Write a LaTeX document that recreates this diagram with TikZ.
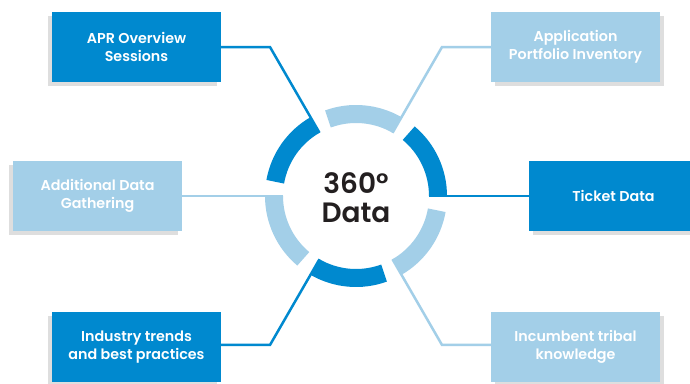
\documentclass[tikz,border=0pt]{standalone}
\usepackage{fontspec}
\setmainfont{Poppins}[BoldFont={Poppins SemiBold}]
\usetikzlibrary{calc,shadows}
\definecolor{dblue}{RGB}{0,137,207}
\definecolor{lblue}{RGB}{163,207,232}
\definecolor{ink}{RGB}{35,31,32}
\begin{document}
\begin{tikzpicture}[x=1pt,y=1pt,
  box/.style={minimum width=169pt, minimum height=70pt, inner sep=0pt, align=center,
    text=white, font=\bfseries\fontsize{14.3}{18.5}\selectfont},
  lshadow/.style={drop shadow={shadow xshift=-4pt, shadow yshift=-4pt, fill=black, opacity=0.13}},
  rshadow/.style={drop shadow={shadow xshift=4pt, shadow yshift=-4pt, fill=black, opacity=0.13}},
  dbox/.style={box, fill=dblue},
  lbox/.style={box, fill=lblue},
  seg/.style={line width=18pt},
  conn/.style={line width=2.5pt},
]
\useasboundingbox (0,0) rectangle (690,383);
\fill[white] (0,0) rectangle (690,383);
\clip (0,0) rectangle (690,383);

\coordinate (c) at (356,187);

% boxes
\node[dbox, lshadow] (apr) at (136.5,336) {APR Overview\\Sessions};
\node[lbox, rshadow] (app) at (575.5,336) {Application\\Portfolio Inventory};
\node[lbox, lshadow] (add) at (97.5,187) {Additional Data\\Gathering};
\node[dbox, rshadow] (tick) at (613.5,187) {Ticket Data};
\node[dbox, lshadow] (ind) at (136.5,36) {Industry trends\\and best practices};
\node[lbox, rshadow] (inc) at (575.5,36) {Incumbent tribal\\knowledge};

% connector anchor points
\coordinate (s0) at ($(c)+(0:73)$);
\coordinate (s1) at ($(c)+(60:73)$);
\coordinate (s2) at ($(c)+(120:73)$);
\coordinate (s3) at ($(c)+(180:73)$);
\coordinate (s4) at ($(c)+(240:73)$);
\coordinate (s5) at ($(c)+(300:73)$);
\coordinate (b1) at ($(c)+(60:172)$);
\coordinate (b2) at ($(c)+(120:172)$);
\coordinate (b4) at ($(c)+(240:172)$);
\coordinate (b5) at ($(c)+(300:172)$);

% connectors
\draw[conn, dblue] (s0) -- (tick.west);
\draw[conn, lblue] (s3) -- (add.east);
\draw[conn, lblue] (s1) -- (b1) -- (b1 -| app.west);
\draw[conn, dblue] (s2) -- (b2) -- (b2 -| apr.east);
\draw[conn, dblue] (s4) -- (b4) -- (b4 -| ind.east);
\draw[conn, lblue] (s5) -- (b5) -- (b5 -| inc.west);

% ring segments
\draw[seg, dblue] ($(c)+(0:82)$) arc[start angle=0, end angle=50, radius=82];
\draw[seg, lblue] ($(c)+(60:82)$) arc[start angle=60, end angle=110, radius=82];
\draw[seg, dblue] ($(c)+(120:82)$) arc[start angle=120, end angle=170, radius=82];
\draw[seg, lblue] ($(c)+(180:82)$) arc[start angle=180, end angle=230, radius=82];
\draw[seg, dblue] ($(c)+(240:82)$) arc[start angle=240, end angle=290, radius=82];
\draw[seg, lblue] ($(c)+(300:82)$) arc[start angle=300, end angle=350, radius=82];

% center text
\node[align=center, text=ink, font=\bfseries\fontsize{28}{29}\selectfont, inner sep=0pt] (title) at (356,185) {360°\\Data};
\end{tikzpicture}
\end{document}
